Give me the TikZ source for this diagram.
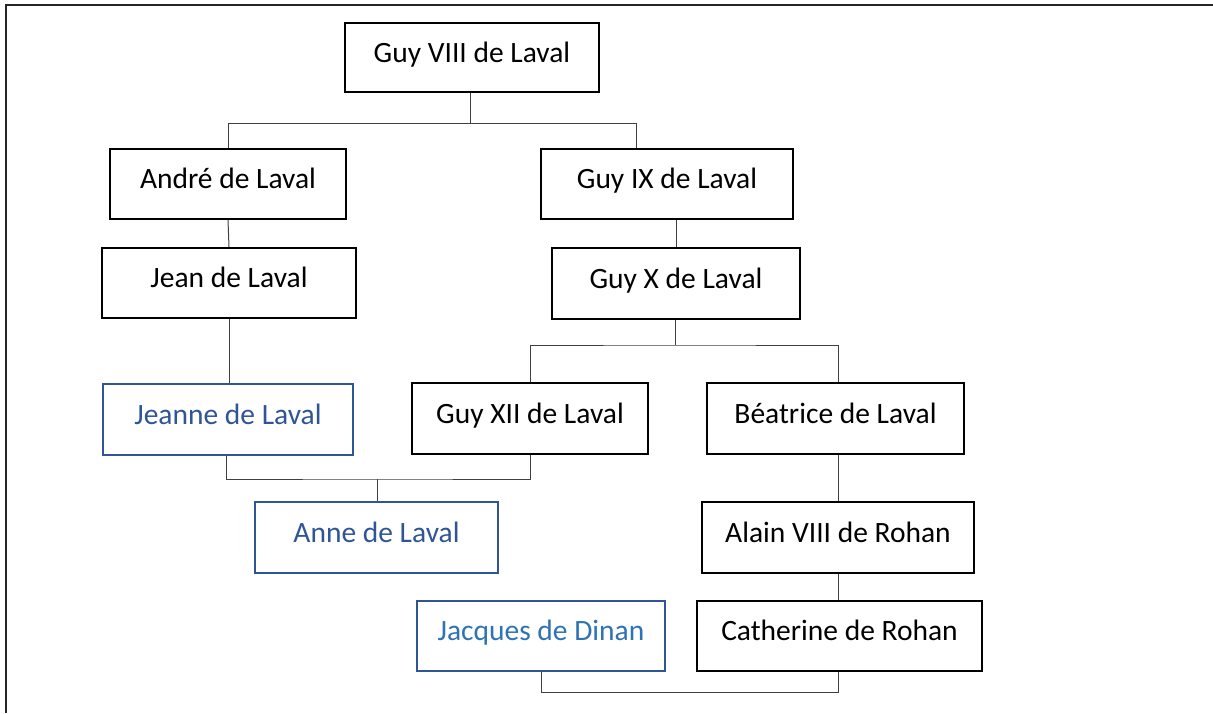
\documentclass[tikz,border=0pt]{standalone}
\usepackage{fontspec}
\setmainfont{Carlito}
\definecolor{bluedge}{HTML}{2F5597}
\definecolor{bluetxt}{HTML}{2F5597}
\definecolor{bluelight}{HTML}{2E74B5}
\definecolor{linkgray}{HTML}{404040}
\begin{document}
\begin{tikzpicture}[x=1pt,y=-1pt,
  person/.style={draw=black,line width=2pt,fill=white,inner sep=0pt,
    text height=21pt,text depth=12pt,font=\fontsize{29.5}{34}\selectfont},
  blueperson/.style={person,draw=bluedge,text=bluetxt},
  link/.style={draw=linkgray,line width=1pt}]
\useasboundingbox (0,0) rectangle (1213,713);
% outer frame (open at the bottom and right)
\draw[line width=2pt,draw=black!85] (6,713) -- (6,5) -- (1213,5);

\node[person,minimum width=254pt,minimum height=69pt] (g8) at (472,57.5) {Guy VIII de Laval};
\node[person,minimum width=236pt,minimum height=70pt] (andre) at (228,184) {André de Laval};
\node[person,minimum width=252pt,minimum height=70pt] (g9) at (667,184) {Guy IX de Laval};
\node[person,minimum width=254pt,minimum height=70pt] (jean) at (229,283) {Jean de Laval};
\node[person,minimum width=248pt,minimum height=71pt] (g10) at (676,283.5) {Guy X de Laval};
\node[blueperson,minimum width=250pt,minimum height=71pt] (jeanne) at (228,419.5) {Jeanne de Laval};
\node[person,minimum width=236pt,minimum height=71pt] (g12) at (530,418.5) {Guy XII de Laval};
\node[person,minimum width=257pt,minimum height=71pt] (beatrice) at (835.5,418.5) {Béatrice de Laval};
\node[blueperson,minimum width=243pt,minimum height=71pt] (anne) at (376.5,537.5) {Anne de Laval};
\node[person,minimum width=272pt,minimum height=71pt] (alain) at (838,537.5) {Alain VIII de Rohan};
\node[blueperson,text=bluelight,minimum width=248pt,minimum height=70pt] (jacques) at (541,636) {Jacques de Dinan};
\node[person,minimum width=285pt,minimum height=70pt] (catherine) at (839.5,636) {Catherine de Rohan};

\coordinate (b1) at (470,123);
\coordinate (b1r) at (636,123);
\coordinate (b2) at (675,345);
\coordinate (b3) at (377,479);
\coordinate (b4) at (541,692);

% Guy VIII -> André, Guy IX
\draw[link] (g8.south -| b1) -- (b1);
\draw[link] (andre.north) |- (b1r) -- (b1r |- g9.north);
% André -> Jean
\draw[link] (andre.south) -- (jean.north);
% Guy IX -> Guy X
\draw[link] (g10.north) -- (g10.north |- g9.south);
% Guy X -> Guy XII, Béatrice
\draw[link] (g10.south -| b2) -- (b2);
\draw[link] (g12.north) |- (b2) -| ([xshift=2.5pt]beatrice.north);
% Jean -> Jeanne
\draw[link] (jean.south) -- (jean.south |- jeanne.north);
% Jeanne + Guy XII -> Anne
\draw[link] ([xshift=-2pt]jeanne.south) |- (b3) -| (g12.south);
\draw[link] (b3) -- (b3 |- anne.north);
% Béatrice -> Alain -> Catherine
\draw[link] ([xshift=2.5pt]beatrice.south) -- (alain.north);
\draw[link] (alain.south) -- (alain.south |- catherine.north);
% Jacques + Catherine
\draw[link] (jacques.south) |- (b4) -| (catherine.south -| alain.south);
\end{tikzpicture}
\end{document}
